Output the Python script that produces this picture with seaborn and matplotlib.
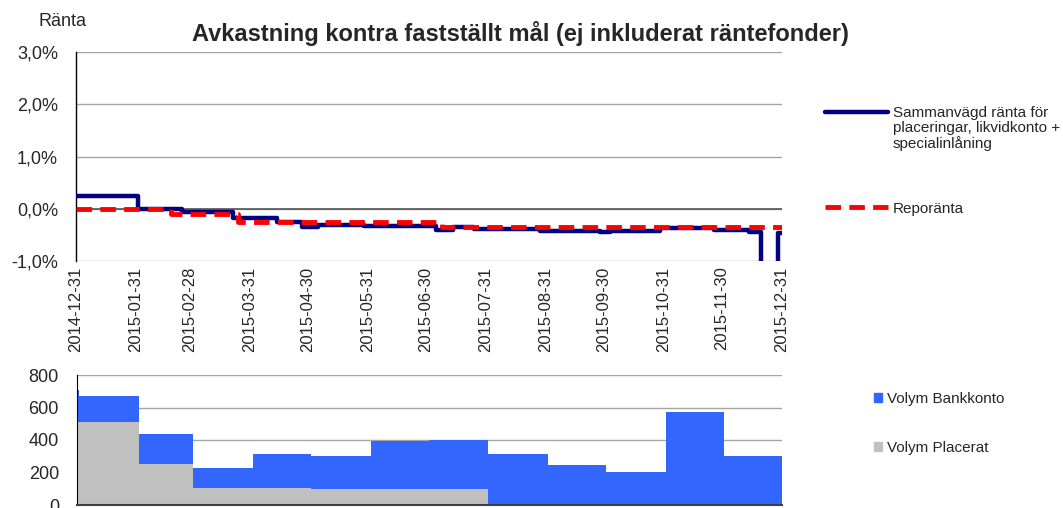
import numpy as np
import pandas as pd
import seaborn as sns
import matplotlib.pyplot as plt
from matplotlib.ticker import FuncFormatter
from matplotlib.legend_handler import HandlerLine2D
from matplotlib.patches import Patch

# Sammanvägd ränta (change dates and level in %)
ranta_datum = ['2014-12-31', '2015-02-01', '2015-02-24', '2015-03-22', '2015-04-14',
               '2015-04-27', '2015-05-05', '2015-05-29', '2015-07-05', '2015-07-14',
               '2015-07-25', '2015-08-28', '2015-09-28', '2015-10-03', '2015-10-23',
               '2015-10-29', '2015-11-26', '2015-12-14', '2015-12-20', '2015-12-29',
               '2015-12-31']
ranta_varde = [0.25, 0.00, -0.07, -0.17, -0.26,
               -0.35, -0.32, -0.33, -0.40, -0.34,
               -0.38, -0.43, -0.44, -0.42, -0.43,
               -0.36, -0.40, -0.45, -1.80, -0.47,
               -0.47]

# Reporänta
repo_datum = ['2014-12-31', '2015-02-18', '2015-03-25', '2015-07-08', '2015-12-31']
repo_varde = [0.00, -0.10, -0.25, -0.35, -0.35]

# Volymer (value holds from each date until the next)
volym_datum = ['2014-12-31', '2015-01-01', '2015-02-01', '2015-03-01', '2015-04-01',
               '2015-05-01', '2015-06-01', '2015-07-01', '2015-08-01', '2015-09-01',
               '2015-10-01', '2015-11-01', '2015-12-01', '2015-12-31']
volym_placerat = [513, 513, 250, 103, 107, 100, 100, 100, 0, 0, 0, 0, 0, 0]
volym_bankkonto = [195, 158, 187, 123, 205, 203, 294, 298, 312, 246, 201, 570, 303, 303]

manad_ticks = ['2014-12-31', '2015-01-31', '2015-02-28', '2015-03-31', '2015-04-30',
               '2015-05-31', '2015-06-30', '2015-07-31', '2015-08-31', '2015-09-30',
               '2015-10-31', '2015-11-30', '2015-12-31']

sns.set_style('white')
plt.rcParams['font.family'] = ['Liberation Sans', 'DejaVu Sans']

ranta = pd.DataFrame({'datum': pd.to_datetime(ranta_datum), 'ranta': ranta_varde})
repo = pd.DataFrame({'datum': pd.to_datetime(repo_datum), 'ranta': repo_varde})
volym = pd.DataFrame({'datum': pd.to_datetime(volym_datum),
                      'placerat': volym_placerat, 'bank': volym_bankkonto})
volym['total'] = volym['placerat'] + volym['bank']
ticks = pd.to_datetime(manad_ticks)

W, H = 1063, 508
fig = plt.figure(figsize=(W / 100, H / 100), dpi=100)
ax1 = fig.add_axes([76 / W, 1 - 261 / H, (782 - 76) / W, (261 - 52) / H])
ax2 = fig.add_axes([77 / W, 1 - 505 / H, (782 - 77) / W, (505 - 375) / H])

# --- top chart ---
sns.lineplot(data=ranta, x='datum', y='ranta', ax=ax1, color='#000080', lw=3.2,
             drawstyle='steps-post', zorder=3)
blue_line = ax1.lines[-1]
sns.lineplot(data=repo, x='datum', y='ranta', ax=ax1, color='#FF0000', lw=3.5,
             drawstyle='steps-post', zorder=4)
red_line = ax1.lines[-1]
red_line.set_dashes([3.2, 1.7])

ax1.set_xlim(ticks[0], ticks[-1])
ax1.set_ylim(-1, 3)
ax1.set_yticks([-1, 0, 1, 2, 3])
ax1.yaxis.set_major_formatter(FuncFormatter(lambda v, _: f'{v:.1f}%'.replace('.', ',')))
ax1.yaxis.grid(True, color='#A6A6A6', lw=1)
ax1.axhline(0, color='#555555', lw=1.2, zorder=2)
ax1.set_xticks(ticks)
ax1.set_xticklabels([t.strftime('%Y-%m-%d') for t in ticks], rotation=90, fontsize=12)
ax1.tick_params(axis='x', length=0, pad=4)
ax1.tick_params(axis='y', length=5, width=1, color='black', direction='out', pad=8, labelsize=13)
ax1.set_xlabel('')
ax1.set_ylabel('')
for s in ['top', 'right', 'bottom']:
    ax1.spines[s].set_visible(False)
ax1.spines['left'].set_color('black')
ax1.spines['left'].set_linewidth(1)

# --- bottom chart ---
ax2.fill_between(volym['datum'], 0, volym['placerat'], step='post', color='#C0C0C0', lw=0, zorder=2)
ax2.fill_between(volym['datum'], volym['placerat'], volym['total'], step='post',
                 color='#3366FF', lw=0, zorder=2)
ax2.set_xlim(ticks[0], ticks[-1])
ax2.set_ylim(0, 800)
ax2.set_yticks([0, 200, 400, 600, 800])
ax2.yaxis.grid(True, color='#A6A6A6', lw=1, zorder=0)
ax2.set_axisbelow(True)
ax2.set_xticks([])
ax2.tick_params(axis='y', length=5, width=1, color='black', direction='out', pad=8, labelsize=13)
for s in ['top', 'right']:
    ax2.spines[s].set_visible(False)
ax2.spines['left'].set_color('black')
ax2.spines['bottom'].set_color('#404040')
ax2.spines['bottom'].set_linewidth(1.5)

# --- texts ---
fig.text(520 / W, 1 - 33 / H, 'Avkastning kontra fastställt mål (ej inkluderat räntefonder)',
         ha='center', va='center', fontsize=17, weight='bold')
fig.text(62 / W, 1 - 21 / H, 'Ränta', ha='center', va='center', fontsize=13)

LEG_FS = 11
LEG_LS = 1.1


class TopLineHandler(HandlerLine2D):
    def __init__(self, lines_up, **kw):
        super().__init__(**kw)
        self.lines_up = lines_up

    def create_artists(self, legend, orig_handle, xdescent, ydescent, width, height, fontsize, trans):
        arts = super().create_artists(legend, orig_handle, xdescent, ydescent, width, height,
                                      fontsize, trans)
        for a in arts:
            a.set_ydata(np.asarray(a.get_ydata()) + self.lines_up * LEG_LS * fontsize)
        return arts


leg1 = fig.legend([blue_line, red_line],
                  ['Sammanvägd ränta för\nplaceringar, likvidkonto +\nspecialinlåning', 'Reporänta'],
                  handler_map={blue_line: TopLineHandler(1)},
                  loc='upper left', bbox_to_anchor=(825 / W, 1 - 106 / H), frameon=False,
                  fontsize=LEG_FS, handlelength=4.1, handletextpad=0.33, labelspacing=3.3,
                  borderaxespad=0, borderpad=0)
for t in leg1.get_texts():
    t.set_linespacing(LEG_LS)

fig.legend([Patch(color='#3366FF'), Patch(color='#C0C0C0')],
           ['Volym Bankkonto', 'Volym Placerat'],
           loc='upper left', bbox_to_anchor=(874 / W, 1 - 392 / H), frameon=False,
           fontsize=LEG_FS, handlelength=0.55, handleheight=0.55, handletextpad=0.3,
           labelspacing=2.3, borderaxespad=0, borderpad=0)

fig.savefig('out.png', dpi=100)
